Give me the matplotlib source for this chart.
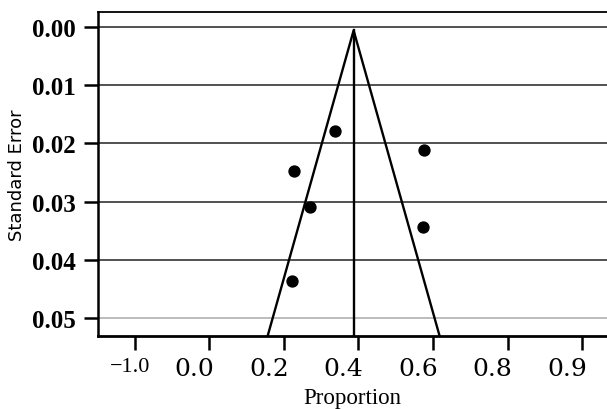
import matplotlib
matplotlib.use("Agg")
import matplotlib.pyplot as plt
from matplotlib.transforms import ScaledTranslation

# Study estimates: proportion and its standard error
proportion = [0.336, 0.576, 0.228, 0.270, 0.574, 0.223]
std_error = [0.0178, 0.0211, 0.0248, 0.0310, 0.0344, 0.0436]

# Pooled estimate and funnel boundaries (apex and base)
pooled = 0.387
funnel_apex_se = 0.0006
funnel_base_se = 0.053
funnel_base_left = 0.157
funnel_base_right = 0.617

# Axis ticks
x_ticks = [-0.2, 0.0, 0.2, 0.4, 0.6, 0.8, 1.0]
x_tick_labels = ["\u22121.0", "0.0", "0.2", "0.4", "0.6", "0.8", "0.9"]
y_ticks = [0.00, 0.01, 0.02, 0.03, 0.04, 0.05]
y_tick_labels = ["0.00", "0.01", "0.02", "0.03", "0.04", "0.05"]

W, H = 607, 410
fig = plt.figure(figsize=(W / 100, H / 100), dpi=100)
ax = fig.add_axes([98 / W, (H - 337) / H, (W - 98) / W, (337 - 12.5) / H])

ax.set_xlim(-0.298, 1.066)
ax.set_ylim(0.0531, -0.00266)

# horizontal reference lines
for yv in y_ticks:
    col = "#aaaaaa" if yv == y_ticks[-1] else "#222222"
    ax.axhline(yv, color=col, lw=1.1, zorder=1)

# funnel
ax.plot([funnel_base_left, pooled, funnel_base_right],
        [funnel_base_se, funnel_apex_se, funnel_base_se],
        color="black", lw=1.7, zorder=2, clip_on=False)
ax.plot([pooled, pooled], [funnel_apex_se, 0.0531], color="black", lw=1.7, zorder=2)

ax.scatter(proportion, std_error, s=62, color="black", zorder=3)

# spines
ax.spines["right"].set_visible(False)
ax.spines["left"].set_linewidth(1.8)
ax.spines["bottom"].set_linewidth(2.0)
ax.spines["top"].set_linewidth(1.3)

ax.set_yticks(y_ticks)
ax.set_yticklabels(y_tick_labels, fontfamily="Liberation Serif",
                   fontweight="bold", fontsize=18)
ax.tick_params(axis="y", length=10, width=1.8, pad=6, direction="out")

ax.set_xticks(x_ticks)
ax.set_xticklabels(x_tick_labels)
ax.tick_params(axis="x", length=10, width=1.8, pad=5, direction="out")
labels = ax.get_xticklabels()
for i, lab in enumerate(labels):
    if i == 0:
        lab.set_fontfamily("Liberation Serif")
        lab.set_fontsize(16)
        dx = -5
    else:
        lab.set_fontfamily("DejaVu Serif")
        lab.set_fontsize(18)
        dx = -15
    lab.set_transform(lab.get_transform() + ScaledTranslation(dx / 100, 0, fig.dpi_scale_trans))

ax.set_ylabel("Standard Error", fontfamily="DejaVu Sans", fontsize=13, labelpad=4)
ax.set_xlabel("Proportion", fontfamily="Liberation Serif", fontsize=16.5, labelpad=5)

fig.savefig("out.png", dpi=100)
